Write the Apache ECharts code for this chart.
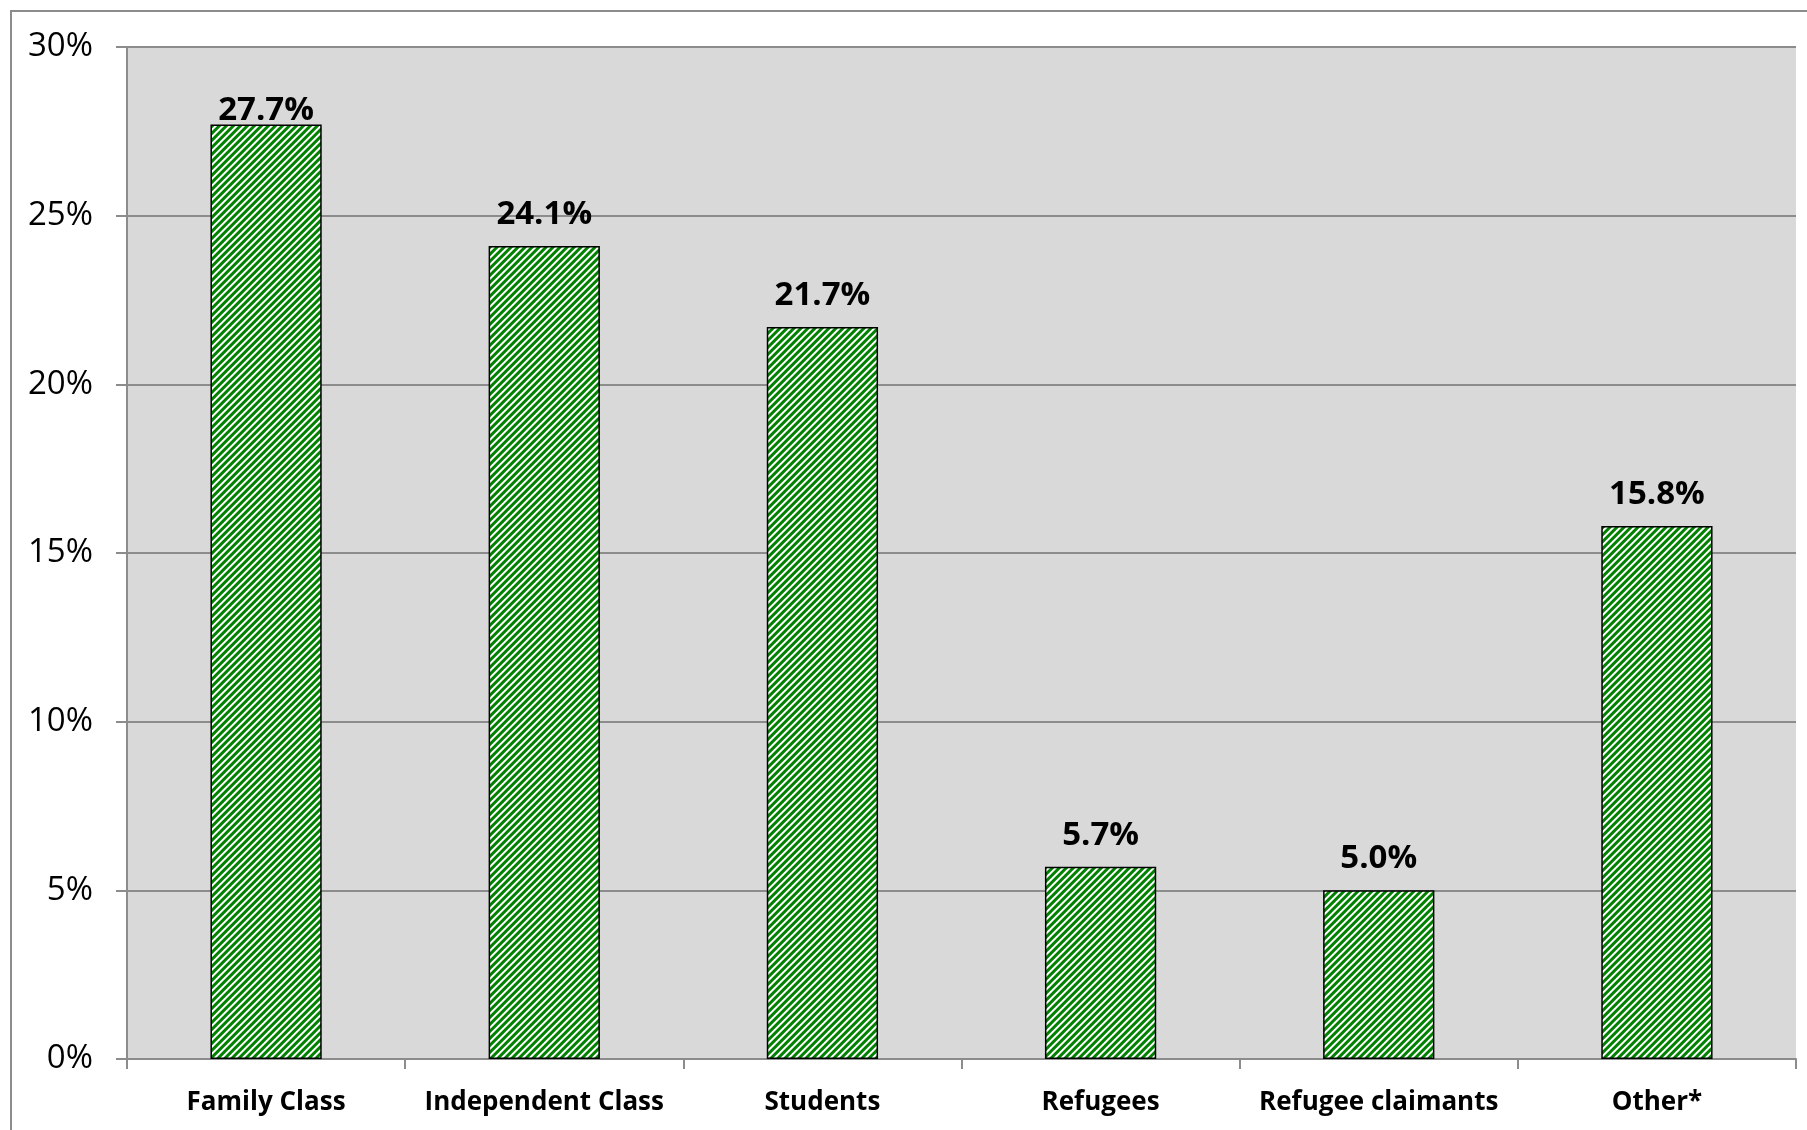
<!DOCTYPE html>
<html>
<head>
<meta charset="utf-8">
<title>Admission categories</title>
<script src="https://cdn.jsdelivr.net/npm/echarts@6/dist/echarts.min.js"></script>
<style>
  html, body { margin: 0; padding: 0; background: #ffffff; }
  #chart { width: 1807px; height: 1130px; }
</style>
</head>
<body>
<div id="chart"></div>
<script>
// Share of people by admission category (percent)
const categories = ['Family Class', 'Independent Class', 'Students', 'Refugees', 'Refugee claimants', 'Other*'];
const shares = [27.7, 24.1, 21.7, 5.7, 5.0, 15.8];

// Y axis range in percent
const yMin = 0;
const yMax = 30;
const yStep = 5;

// Green / white upward diagonal hatch used to fill the bars
function makeHatch() {
  const n = 7;
  const c = document.createElement('canvas');
  c.width = n; c.height = n;
  const ctx = c.getContext('2d');
  const img = ctx.createImageData(n, n);
  const green = [0, 130, 0];
  const dark = [60, 160, 60];
  const light = [150, 210, 150];
  const white = [255, 255, 255];
  for (let y = 0; y < n; y++) {
    for (let x = 0; x < n; x++) {
      const k = (x + y) % n;
      let col;
      if (k < 3) col = green;
      else if (k === 3) col = dark;
      else if (k === 6) col = light;
      else col = white;
      const i = (y * n + x) * 4;
      img.data[i] = col[0]; img.data[i + 1] = col[1]; img.data[i + 2] = col[2]; img.data[i + 3] = 255;
    }
  }
  ctx.putImageData(img, 0, 0);
  return c;
}

// The tallest bar's label sits tight against its bar; the rest float a bit higher
const tallest = Math.max(...shares);
const barData = shares.map(v => ({
  value: v,
  label: { distance: v === tallest ? -3 : 15 }
}));

const chart = echarts.init(document.getElementById('chart'), null, { renderer: 'canvas' });

const option = {
  backgroundColor: '#ffffff',
  animation: false,
  graphic: [{
    type: 'rect',
    shape: { x: 11, y: 11, width: 1840, height: 1160 },
    style: { fill: 'none', stroke: '#8c8c8c', lineWidth: 2 },
    silent: true,
    z: -1
  }],
  grid: {
    left: 127, right: 11, top: 47, bottom: 71,
    show: true,
    backgroundColor: '#d9d9d9',
    borderWidth: 0
  },
  xAxis: {
    type: 'category',
    data: categories,
    axisLine: { show: true, lineStyle: { color: '#8c8c8c', width: 2 } },
    axisTick: { show: true, alignWithLabel: false, length: 10, lineStyle: { color: '#8c8c8c', width: 2 } },
    axisLabel: {
      margin: 31,
      color: '#000000',
      fontFamily: 'Open Sans',
      fontWeight: 'bold',
      fontSize: 26,
      interval: 0
    }
  },
  yAxis: {
    type: 'value',
    min: yMin,
    max: yMax,
    interval: yStep,
    axisLine: { show: true, lineStyle: { color: '#8c8c8c', width: 2 } },
    axisTick: { show: true, length: 11, lineStyle: { color: '#8c8c8c', width: 2 } },
    axisLabel: {
      margin: 34,
      color: '#000000',
      fontFamily: 'Open Sans',
      fontSize: 33,
      lineHeight: 33,
      padding: [6, 0, 0, 0],
      formatter: '{value}%'
    },
    splitLine: { show: true, lineStyle: { color: '#8c8c8c', width: 2 } }
  },
  series: [{
    type: 'bar',
    data: barData,
    barCategoryGap: '60%',
    itemStyle: {
      color: { image: makeHatch(), repeat: 'repeat' },
      borderColor: '#000000',
      borderWidth: 1.5
    },
    label: {
      show: true,
      position: 'top',
      color: '#000000',
      fontFamily: 'Open Sans',
      fontWeight: 'bold',
      fontSize: 33,
      formatter: p => p.value.toFixed(1) + '%'
    }
  }]
};

chart.setOption(option);
</script>
</body>
</html>
